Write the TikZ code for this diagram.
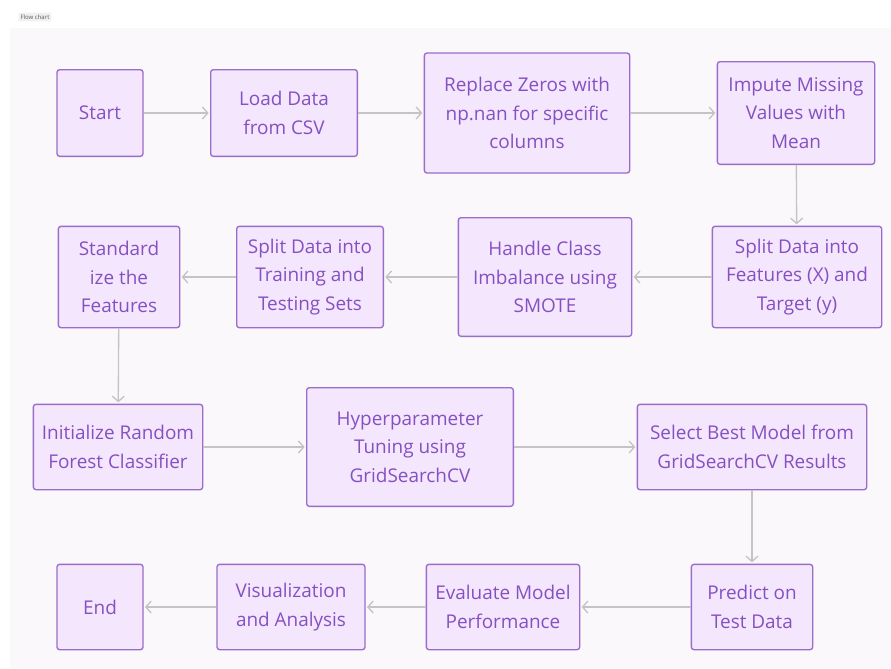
\documentclass[tikz,border=0pt]{standalone}
\usepackage{fontspec}
\setmainfont{Open Sans}
\usetikzlibrary{arrows.meta, positioning}
\definecolor{boxfill}{HTML}{F3E6FD}
\definecolor{boxline}{HTML}{9A6CCC}
\definecolor{boxtext}{HTML}{8650C2}
\definecolor{arrowgray}{HTML}{C6C3C6}
\definecolor{canvas}{HTML}{FAF8FA}
\tikzset{box/.style={rectangle,draw=boxline,fill=boxfill,text=boxtext,rounded corners=2pt,line width=1pt,align=center,inner sep=2pt,font=\fontsize{14.2}{21.3}\selectfont},line/.style={-{Straight Barb[length=4pt,width=9pt]},draw=arrowgray,line width=1pt,shorten >=1pt}}

\begin{document}
\begin{tikzpicture}[x=0.75pt,y=-0.75pt]
\useasboundingbox (0,0) rectangle (891,668);
\fill[canvas] (10,28) rectangle (891,668);
\node[fill=gray!12,rounded corners=1pt,inner sep=1.5pt,font=\fontsize{4.5}{5}\selectfont,text=gray!70!black] (title) at (35,17) {Flow chart};
% row 1
\node[box, minimum width=64.5pt, minimum height=65pt] (start) at (100,113) {Start};
\node[box, minimum width=110pt, minimum height=65pt] (load) at (284,113) {Load Data\\from CSV};
\node[box, minimum width=154pt, minimum height=90pt] (zeros) at (527,113) {Replace Zeros with\\np.nan for specific\\columns};
\node[box, minimum width=118pt, minimum height=77pt] (impute) at (796,113) {Impute Missing\\Values with\\Mean};
% row 2
\node[box, minimum width=127pt, minimum height=76pt] (feat) at (797,277) {Split Data into\\Features (X) and\\Target (y)};
\node[box, minimum width=130pt, minimum height=89pt] (smote) at (545,277) {Handle Class\\Imbalance using\\SMOTE};
\node[box, minimum width=110pt, minimum height=76pt] (split) at (310,277) {Split Data into\\Training and\\Testing Sets};
\node[box, minimum width=91pt, minimum height=76pt] (scale) at (119,277) {Standard\\ize the\\Features};
% row 3
\node[box, minimum width=127pt, minimum height=64pt] (init) at (118,447) {Initialize Random\\Forest Classifier};
\node[box, minimum width=155pt, minimum height=89pt] (tune) at (410,447) {Hyperparameter\\Tuning using\\GridSearchCV};
\node[box, minimum width=172pt, minimum height=64pt] (best) at (752,447) {Select Best Model from\\GridSearchCV Results};
% row 4
\node[box, minimum width=91pt, minimum height=64pt] (predict) at (752,607) {Predict on\\Test Data};
\node[box, minimum width=115pt, minimum height=64pt] (eval) at (503,607) {Evaluate Model\\Performance};
\node[box, minimum width=111pt, minimum height=64pt] (vis) at (291,607) {Visualization\\and Analysis};
\node[box, minimum width=64.5pt, minimum height=64pt] (end) at (100,607) {End};
\draw[line] (start) -- (load);
\draw[line] (load) -- (zeros);
\draw[line] (zeros) -- (impute);
\draw[line] (impute) -- (feat);
\draw[line] (feat) -- (smote);
\draw[line] (smote) -- (split);
\draw[line] (split) -- (scale);
\draw[line] (scale) -- (init);
\draw[line] (init) -- (tune);
\draw[line] (tune) -- (best);
\draw[line] (best) -- (predict);
\draw[line] (predict) -- (eval);
\draw[line] (eval) -- (vis);
\draw[line] (vis) -- (end);
\end{tikzpicture}
\end{document}
